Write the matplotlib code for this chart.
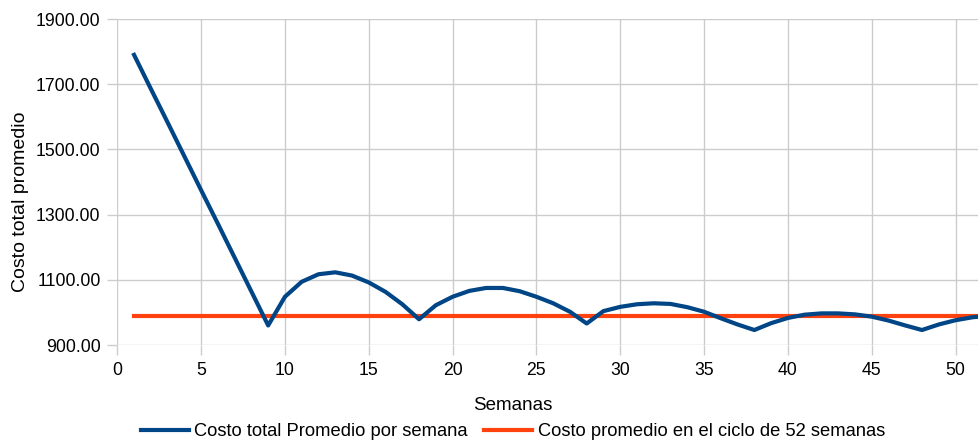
import matplotlib
matplotlib.use("Agg")
import matplotlib.pyplot as plt
from matplotlib.ticker import FormatStrFormatter

plt.rcParams["font.family"] = ["Liberation Sans", "DejaVu Sans"]

# Weekly data
semanas = list(range(1, 53))
costo_semana = [
    1790, 1686, 1583, 1479, 1375, 1272, 1168, 1064, 960,
    1048, 1094, 1117, 1123, 1113, 1092, 1063, 1025, 979,
    1022, 1048, 1066, 1075, 1075, 1065, 1048, 1028, 1002, 966,
    1004, 1017, 1025, 1028, 1026, 1016, 1002, 982, 963, 946,
    967, 983, 993, 997, 997, 994, 987, 975, 960, 946,
    963, 976, 985, 990,
]
costo_promedio_ciclo = 990
x_ticks = list(range(0, 51, 5))
y_ticks = list(range(900, 1901, 200))

label_serie = "Costo total Promedio por semana"
label_promedio = "Costo promedio en el ciclo de 52 semanas"

fig = plt.figure(figsize=(9.79, 4.45), dpi=100)
ax = fig.add_axes([0.1198, 0.2247, 0.8802, 0.7326])

ax.plot(semanas, costo_semana, color="#004586", lw=3, label=label_serie,
        zorder=3)
ax.plot(semanas, [costo_promedio_ciclo] * len(semanas), color="#ff420e",
        lw=3, label=label_promedio, zorder=2)

ax.set_xlim(0, 51.4)
ax.set_ylim(900, 1900)
ax.set_xticks(x_ticks)
ax.set_yticks(y_ticks)
ax.yaxis.set_major_formatter(FormatStrFormatter("%.2f"))

ax.grid(True, color="#cccccc", lw=1)
ax.set_axisbelow(True)
for s in ax.spines.values():
    s.set_visible(False)
ax.tick_params(axis="both", length=7, width=1, color="#cccccc",
               labelsize=12.7, pad=5)

ax.set_xlabel("Semanas", fontsize=13.5)
ax.set_ylabel("Costo total promedio", fontsize=14)
ax.xaxis.set_label_coords(0.459, -0.158)
ax.yaxis.set_label_coords(-0.102, 0.44)

fig.legend(loc="center", bbox_to_anchor=(513 / 979, 1 - 432 / 445), ncol=2,
           frameon=False, fontsize=13.2, handlelength=2.6, handletextpad=0.3,
           columnspacing=0.9, borderaxespad=0)

fig.savefig("out.png", dpi=100)
